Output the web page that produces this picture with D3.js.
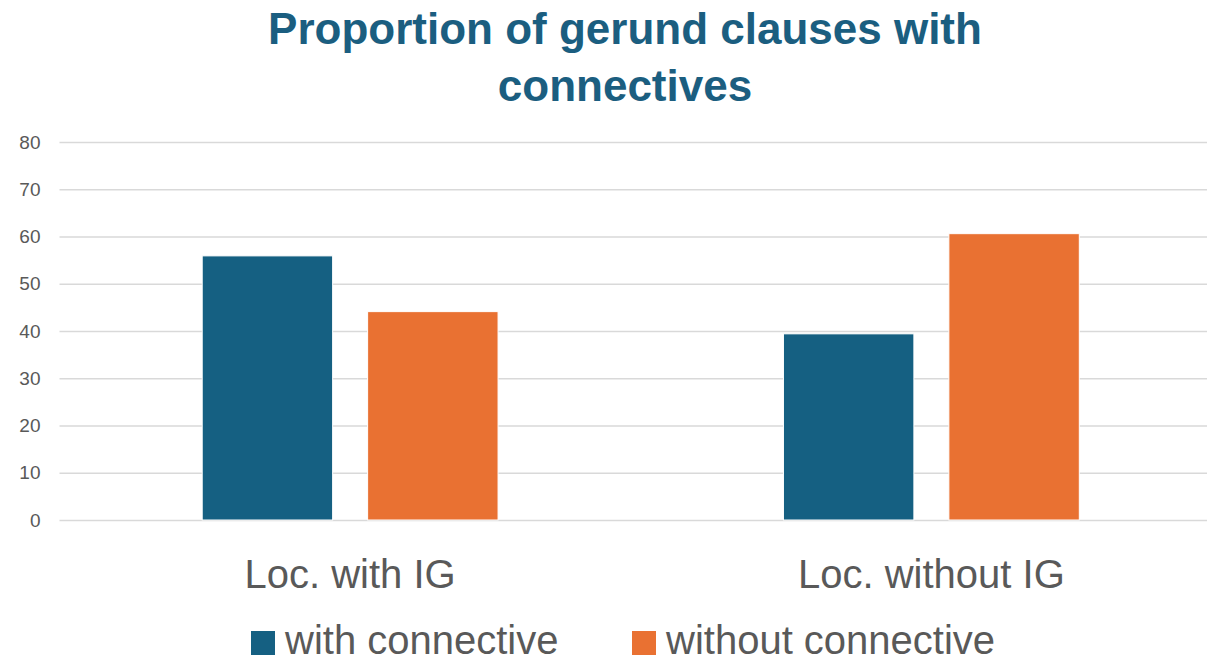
<!DOCTYPE html>
<html>
<head>
  <meta charset="utf-8" />
  <title>Proportion of gerund clauses with connectives</title>
  <style type="text/css">
    body { margin: 0; background: white; }
    svg { display: block; }
    text { font-family: "Liberation Sans", Arial, sans-serif; }
  </style>
  <script src="https://cdnjs.cloudflare.com/ajax/libs/d3/7.8.5/d3.min.js"></script>
</head>
<body>
  <div id="viz"></div>
<script>
  var categories = ["Loc. with IG", "Loc. without IG"]
  var seriesNames = ["with connective", "without connective"]
  var withConnective = [55.9, 39.4]
  var withoutConnective = [44.1, 60.6]
  var yTicks = [0, 10, 20, 30, 40, 50, 60, 70, 80]
  var titleLines = ["Proportion of gerund clauses with", "connectives"]
  var colors = ["#156082", "#E97132"]

  var W = 1207, H = 663
  var plotLeft = 59.5, plotRight = 1222, plotTop = 142, plotBottom = 520

  var svg = d3.select("#viz").append("svg")
    .attr("width", W)
    .attr("height", H)
    .style("background", "white")

  var y = d3.scaleLinear().domain([0, 80]).range([plotBottom, plotTop])
  var x0 = d3.scaleBand().domain(categories).range([plotLeft, plotRight])
    .paddingInner(0.491).paddingOuter(0.2455)
  var x1 = d3.scaleBand().domain(seriesNames).range([0, x0.bandwidth()])
    .paddingInner(0.2115).paddingOuter(0)
  var color = d3.scaleOrdinal().domain(seriesNames).range(colors)

  // title
  svg.append("g").selectAll("text")
    .data(titleLines)
    .enter()
    .append("text")
    .attr("x", 625)
    .attr("y", function (d, i) { return 44 + i * 57 })
    .attr("text-anchor", "middle")
    .style("font-size", "44px")
    .style("font-weight", "bold")
    .style("fill", "#1B5E80")
    .text(function (d) { return d })

  // gridlines + y labels
  var yAxis = d3.axisLeft(y).tickValues(yTicks).tickSize(-(W - plotLeft)).tickPadding(19)
  var gy = svg.append("g").attr("transform", "translate(" + plotLeft + ",0)").call(yAxis)
  gy.select(".domain").remove()
  gy.selectAll(".tick line").style("stroke", "#D9D9D9").style("stroke-width", 1.5)
  gy.selectAll(".tick text")
    .style("font-family", "\"Liberation Sans\", Arial, sans-serif")
    .style("font-size", "19px")
    .style("fill", "#595959")

  // bars
  var rows = categories.map(function (c, i) {
    return { cat: c, values: [withConnective[i], withoutConnective[i]] }
  })
  var groups = svg.append("g").selectAll("g")
    .data(rows)
    .enter()
    .append("g")
    .attr("transform", function (d) { return "translate(" + x0(d.cat) + ",0)" })
  groups.selectAll("rect")
    .data(function (d) { return d.values.map(function (v, j) { return { s: seriesNames[j], v: v } }) })
    .enter()
    .append("rect")
    .attr("x", function (d) { return x1(d.s) })
    .attr("y", function (d) { return y(d.v) })
    .attr("width", x1.bandwidth())
    .attr("height", function (d) { return plotBottom - y(d.v) })
    .style("fill", function (d) { return color(d.s) })
    .style("stroke", "white")
    .style("stroke-width", 1)

  // category labels
  svg.append("g").selectAll("text")
    .data(categories)
    .enter()
    .append("text")
    .attr("x", function (d) { return x0(d) + x0.bandwidth() / 2 })
    .attr("y", 588)
    .attr("text-anchor", "middle")
    .style("font-size", "40px")
    .style("fill", "#595959")
    .text(function (d) { return d })

  // legend
  var legendX = [251, 632]
  var lg = svg.append("g").selectAll("g")
    .data(seriesNames)
    .enter()
    .append("g")
    .attr("transform", function (d, i) { return "translate(" + legendX[i] + ",0)" })
  lg.append("rect")
    .attr("x", 0)
    .attr("y", 631)
    .attr("width", 24)
    .attr("height", 24)
    .style("fill", function (d) { return color(d) })
  lg.append("text")
    .attr("x", 34)
    .attr("y", 654)
    .style("font-size", "40px")
    .style("fill", "#595959")
    .text(function (d) { return d })
</script>
</body>
</html>
